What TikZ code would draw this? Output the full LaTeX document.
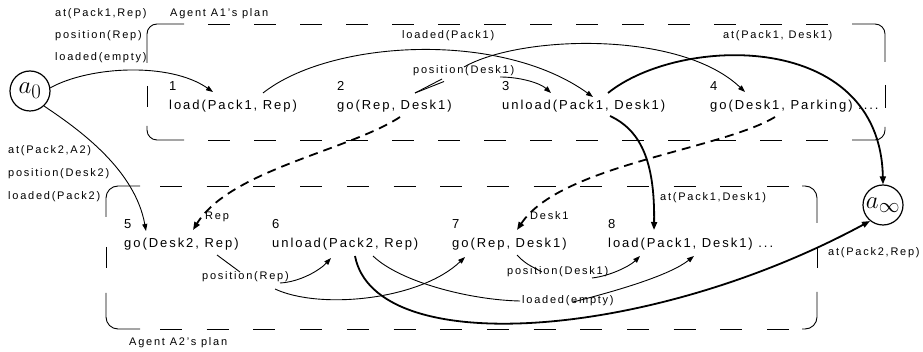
\documentclass[tikz,border=0pt]{standalone}
\usepackage{fontspec}
\setmainfont{Liberation Sans}
\newfontfamily\actfont[LetterSpace=15]{Liberation Sans}
\newfontfamily\lblfont[LetterSpace=16]{Liberation Sans}
\usetikzlibrary{arrows.meta}

\tikzset{
  act/.style={anchor=base west, inner sep=0pt, font=\fontsize{13}{13}\actfont},
  lbl/.style={anchor=base west, inner sep=0pt, font=\fontsize{11}{11}\lblfont},
  statenode/.style={circle, draw, line width=1.2pt, minimum size=40pt, inner sep=0pt,
    font=\fontsize{29}{29}\selectfont},
  plain/.style={line width=0.9pt},
  edge/.style={plain, -{Triangle[length=7pt,width=5pt]}},
  thickedge/.style={line width=1.8pt, -{Triangle[length=8pt,width=6pt]}},
  dashedge/.style={thickedge, dash pattern=on 9pt off 6pt},
  boxline/.style={line width=0.9pt},
}

\begin{document}
\begin{tikzpicture}[x=1pt,y=-1pt]
\useasboundingbox (0,0) rectangle (923,352);

% ---- plan frames ----
% Agent A1
\draw[boxline, rounded corners=10pt] (147,63) -- (147,24) -- (184,24);
\draw[boxline, rounded corners=10pt] (852,24) -- (885,24) -- (885,62);
\draw[boxline, rounded corners=10pt] (885,127) -- (885,140) -- (852,140);
\draw[boxline, rounded corners=10pt] (184,140) -- (147,140) -- (147,126);
\draw[boxline] (147,86) -- (147,107);
\draw[boxline] (885,85) -- (885,108);
\draw[boxline, dash pattern=on 22pt off 24pt] (208,24) -- (830,24);
\draw[boxline, dash pattern=on 22pt off 24pt] (208,140) -- (830,140);
% Agent A2
\draw[boxline, rounded corners=12pt] (106,217) -- (106,186) -- (140,186);
\draw[boxline, rounded corners=12pt] (802,186) -- (817,186) -- (817,223);
\draw[boxline, rounded corners=12pt] (817,292) -- (817,329) -- (802,329);
\draw[boxline, rounded corners=12pt] (140,329) -- (106,329) -- (106,293);
\draw[boxline] (106,247) -- (106,268);
\draw[boxline] (817,247) -- (817,268);
\draw[boxline, dash pattern=on 22pt off 24.7pt] (160,186) -- (790,186);
\draw[boxline, dash pattern=on 22pt off 24.7pt] (160,329) -- (790,329);

\node[lbl] (plan1) at (170,16.5) {Agent A1’s plan};
\node[lbl] (plan2) at (129,345.5) {Agent A2’s plan};

% ---- initial and final states ----
\node[statenode] (a0) at (30,91) {$a_0$};
\node[statenode] (ainf) at (883,205) {$a_\infty$};

\node[lbl] (i1) at (55,16.5) {at(Pack1,Rep)};
\node[lbl] (i2) at (55,38.5) {position(Rep)};
\node[lbl] (i3) at (55,60.5) {loaded(empty)};
\node[lbl] (i4) at (8,153.5) {at(Pack2,A2)};
\node[lbl] (i5) at (8,176.5) {position(Desk2)};
\node[lbl] (i6) at (8,199.5) {loaded(Pack2)};

% ---- actions ----
\node[act] (k1) at (169,91) {1};
\node[act] (n1) at (169,109.5) {load(Pack1, Rep)};
\node[act] (k2) at (337,91) {2};
\node[act] (n2) at (337,109.5) {go(Rep, Desk1)};
\node[act] (k3) at (502,91) {3};
\node[act] (n3) at (502,109.5) {unload(Pack1, Desk1)};
\node[act] (k4) at (710,91) {4};
\node[act] (n4) at (710,109.5) {go(Desk1, Parking) ....};

\node[act] (k5) at (124,229) {5};
\node[act] (n5) at (124,247.5) {go(Desk2, Rep)};
\node[act] (k6) at (272,229) {6};
\node[act] (n6) at (272,247.5) {unload(Pack2, Rep)};
\node[act] (k7) at (452,229) {7};
\node[act] (n7) at (452,247.5) {go(Rep, Desk1)};
\node[act] (k8) at (608,229) {8};
\node[act] (n8) at (608,247.5) {load(Pack1, Desk1) ...};

% ---- causal-link labels ----
\node[lbl] (c1) at (402,38.5) {loaded(Pack1)};
\node[lbl] (c2) at (413,73.5) {position(Desk1)};
\node[lbl] (c3) at (723,38.5) {at(Pack1, Desk1)};
\node[lbl] (c4) at (205,220) {Rep};
\node[lbl] (c5) at (530,220) {Desk1};
\node[lbl] (c6) at (660,200.5) {at(Pack1,Desk1)};
\node[lbl] (c7) at (202,279.5) {position(Rep)};
\node[lbl] (c8) at (507,274.5) {position(Desk1)};
\node[lbl] (c9) at (522,303.5) {loaded(empty)};
\node[lbl] (c10) at (828,255.5) {at(Pack2,Rep)};

% ---- ports on the action texts ----
\coordinate (n1in) at (213,92);
\coordinate (n1out) at (263,93);
\coordinate (n2out) at (415,93);
\coordinate (n2down) at (400,117);
\coordinate (n3in) at (593,97);
\coordinate (n3inb) at (551,93);
\coordinate (n3out) at (608,93);
\coordinate (n3down) at (610,116);
\coordinate (n4in) at (745,92);
\coordinate (n4down) at (775,117);
\coordinate (n5in) at (146,231);
\coordinate (n5inb) at (193,230);
\coordinate (n5out) at (217,255);
\coordinate (n6in) at (331,258);
\coordinate (n6out) at (355,256);
\coordinate (n6outb) at (373,256);
\coordinate (n7in) at (465,257);
\coordinate (n7inb) at (517,230);
\coordinate (n7out) at (517,255);
\coordinate (n8in) at (654,230);
\coordinate (n8inb) at (640,256);
\coordinate (n8inc) at (694,256);

% ---- links ----
\draw[edge] (a0.9) .. controls (90,66) and (170,62) .. (n1in);
\draw[edge] (a0.-47) .. controls (80,130) and (135,170) .. (n5in);
\draw[edge] (n1out) .. controls (330,40) and (500,30) .. (n3in);

\draw[plain] (n2out) -- (442,79);
\draw[plain] (n2out) -- (444,81.5);
\draw[edge] (500,77) .. controls (520,77) and (540,83) .. (n3inb);
\draw[edge] (464,67) .. controls (520,35) and (680,30) .. (n4in);

\draw[thickedge] (n3out) .. controls (680,35) and (880,30) .. (ainf.north);
\draw[thickedge] (n3down) .. controls (640,130) and (655,160) .. (n8in);

\draw[dashedge] (n2down) .. controls (350,150) and (230,170) .. (n5inb);
\draw[dashedge] (n4down) .. controls (720,150) and (560,165) .. (n7inb);

\draw[plain] (n5out) .. controls (228,263) .. (240,272);
\draw[edge] (280,283) .. controls (300,282) and (320,270) .. (n6in);
\draw[edge] (275,289) .. controls (320,310) and (420,300) .. (n7in);

\draw[thickedge] (n6out) .. controls (375,360) and (650,340) .. (ainf.-129);

\draw[plain] (n6outb) .. controls (400,282) and (470,300) .. (520,301);
\draw[edge] (573,302) .. controls (620,290) and (670,275) .. (n8inc);

\draw[plain] (n7out) .. controls (525,263) .. (542,272);
\draw[edge] (592,278) .. controls (610,276) and (630,266) .. (n8inb);
\end{tikzpicture}
\end{document}
